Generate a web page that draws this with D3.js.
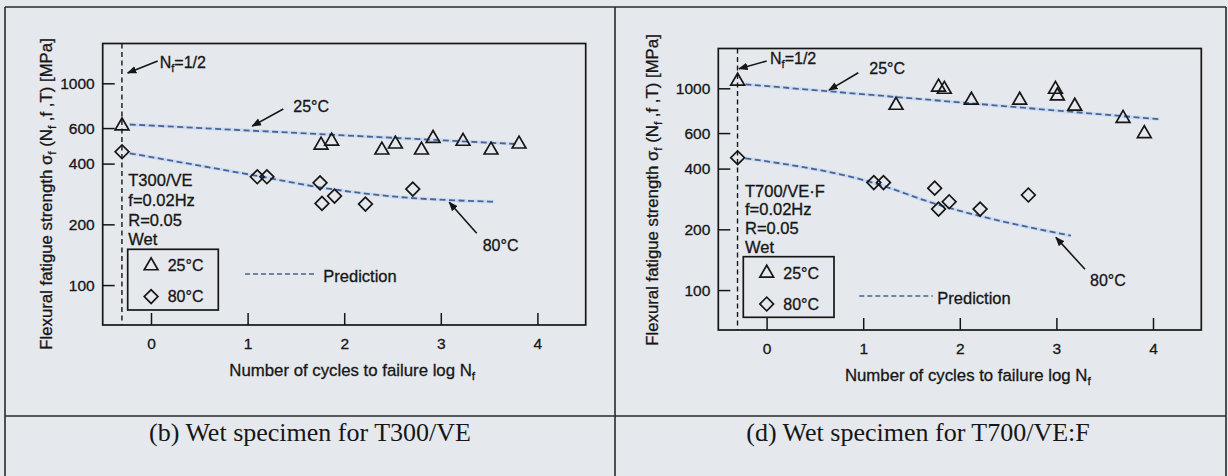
<!DOCTYPE html>
<html>
<head>
<meta charset="utf-8">
<script src="https://cdn.jsdelivr.net/npm/d3@7"></script>
<style>
  body { margin: 0; background: #e5e8ed; }
  svg { display: block; }
  text { font-family: "Liberation Sans", Arial, Helvetica, sans-serif; fill: #161616;
         stroke: #161616; stroke-width: 0.3px; }
  .caption { font-family: "Liberation Serif", "Times New Roman", serif; font-size: 26px; stroke: none; }
</style>
</head>
<body>
<div id="chart"></div>
<script>
// axis ticks (log N on x, stress on a log y axis)
var xTicks = [0, 1, 2, 3, 4],
    yTicks = [100, 200, 400, 600, 1000];
var logNHalf = Math.log10(0.5); // Nf = 1/2

// (b) T300/VE, wet
var b25LogN = [-0.30, 1.76, 1.87, 2.39, 2.53, 2.80, 2.92, 3.23, 3.52, 3.81],
    b25Stress = [615, 494, 517, 467, 500, 467, 533, 516, 467, 500];
var b80LogN = [-0.30, 1.10, 1.20, 1.75, 1.77, 1.90, 2.22, 2.71],
    b80Stress = [458, 344, 344, 321, 254, 276, 252, 299];
var b25PredLogN = [-0.22, 3.78],
    b25PredStress = [625, 500];
var b80PredLogN = [-0.22, 1.15, 1.75, 2.50, 3.55],
    b80PredStress = [450, 344, 305, 275, 259];

// (d) T700/VE:F, wet
var d25LogN = [-0.30, 1.34, 1.78, 1.84, 2.12, 2.62, 2.99, 3.01, 3.19, 3.69, 3.91],
    d25Stress = [1085, 824, 1014, 989, 873, 873, 989, 916, 815, 710, 596];
var d80LogN = [-0.30, 1.11, 1.21, 1.74, 1.78, 1.89, 2.21, 2.71],
    d80Stress = [453, 341, 341, 320, 252, 274, 252, 296];
var d25PredLogN = [-0.22, 4.06],
    d25PredStress = [1047, 703];
var d80PredLogN = [-0.22, 1.15, 1.70, 3.15],
    d80PredStress = [450, 335, 272, 186];

var w = 1228, h = 476;
var pw = 483, ph = 281.5;
var predColor = "#46639a", ink = "#161616";

function zip(xs, ys) { return xs.map(function(x, i) { return [x, ys[i]]; }); }

var panels = [
  {ox: 102.7, oy: 43.5, caption: "(b) Wet specimen for T300/VE", capX: 310,
   material: "T300/VE",
   d25: zip(b25LogN, b25Stress), d80: zip(b80LogN, b80Stress),
   p25: zip(b25PredLogN, b25PredStress), p80: zip(b80PredLogN, b80PredStress),
   lay: {nf: [57, 24], nfArrow: [55, 17.5, 25, 29.5],
         t25: [190.6, 68.5], a25: [180.6, 65.5, 149.6, 82.5],
         t80: [380, 207.5], a80: [374, 189.8, 346.5, 158.8],
         info: [25.6, 142.5, 19.8],
         legend: [25, 205.8, 90.6, 60.7], predY: 230.5, predX: [142.3, 212.3, 220.6],
         yLabX: -51, yLabY: 150.5}},
  {ox: 718.3, oy: 48.5, caption: "(d) Wet specimen for T700/VE:F", capX: 918,
   material: "T700/VE\u00b7F",
   d25: zip(d25LogN, d25Stress), d80: zip(d80LogN, d80Stress),
   p25: zip(d25PredLogN, d25PredStress), p80: zip(d80PredLogN, d80PredStress),
   lay: {nf: [51.7, 15.8], nfArrow: [48.4, 12.5, 20.7, 20.3],
         t25: [151, 25.8], a25: [140, 24.2, 110.7, 41.6],
         t80: [371.7, 237.5], a80: [366.7, 220.8, 337.6, 188.9],
         info: [26.7, 148.2, 18.7],
         legend: [25, 208.2, 90.7, 60.6], predY: 247.5, predX: [141, 214.4, 219],
         yLabX: -60.3, yLabY: 141.5}}
];

var svg = d3.select("#chart").append("svg")
    .attr("width", w)
    .attr("height", h);

svg.append("rect").attr("width", w).attr("height", h).attr("fill", "#e5e8ed");

// arrow head
svg.append("defs").append("marker")
    .attr("id", "head")
    .attr("viewBox", "0 0 10 10")
    .attr("refX", 9).attr("refY", 5)
    .attr("markerWidth", 6).attr("markerHeight", 6)
    .attr("orient", "auto")
  .append("path")
    .attr("d", "M0,1L10,5L0,9Z")
    .attr("fill", ink);

// table frame around both figures
svg.append("path")
    .attr("d", "M5,7H1226M5,7V476M615,7V476M1226,7V476M5,416H1226")
    .attr("fill", "none")
    .attr("stroke", "#2a2a2a")
    .attr("stroke-width", 1.6);

var x = d3.scaleLinear().domain([-0.5, 4.5]).range([0, pw]),
    y = d3.scaleLog().domain([63.4, 1575]).range([ph, 0]);

var tri = d3.symbol(d3.symbolTriangle, 82),
    dia = d3.symbol(d3.symbolSquare, 94);

function addSub(t, s) {
  t.append("tspan").attr("dy", 4).attr("font-size", "0.7em").text(s);
}

panels.forEach(function(p) {
  var L = p.lay;
  var g = svg.append("g").attr("transform", "translate(" + p.ox + "," + p.oy + ")");

  // axes, ticks inside the box
  var xa = g.append("g")
      .attr("transform", "translate(0," + ph + ")")
      .call(d3.axisBottom(x).tickValues(xTicks).tickFormat(d3.format("d"))
        .tickSizeInner(-12).tickSizeOuter(0).tickPadding(13));
  var ya = g.append("g")
      .call(d3.axisLeft(y).tickValues(yTicks).tickFormat(d3.format("d"))
        .tickSizeInner(-12).tickSizeOuter(0).tickPadding(8));
  [xa, ya].forEach(function(a) {
    a.select(".domain").remove();
    a.selectAll("line").attr("stroke", ink).attr("stroke-width", 1.5);
    a.selectAll("text").attr("font-size", 15.5).attr("fill", ink)
      .style("font-family", "'Liberation Sans', Arial, sans-serif");
  });

  g.append("rect")
      .attr("width", pw).attr("height", ph)
      .attr("fill", "none").attr("stroke", ink).attr("stroke-width", 1.7);

  // Nf = 1/2 line
  g.append("line")
      .attr("x1", x(logNHalf)).attr("x2", x(logNHalf))
      .attr("y1", 0).attr("y2", ph)
      .attr("stroke", ink).attr("stroke-width", 1.4)
      .attr("stroke-dasharray", "5,3.5");

  // prediction curves
  var line = d3.line()
      .x(function(d) { return x(d[0]); })
      .y(function(d) { return y(d[1]); })
      .curve(d3.curveMonotoneX);
  [p.p25, p.p80].forEach(function(pd) {
    g.append("path").datum(pd)
        .attr("fill", "none").attr("stroke", "#b9cfee")
        .attr("stroke-width", 3.5).attr("opacity", 0.55)
        .attr("d", line);
    g.append("path").datum(pd)
        .attr("fill", "none").attr("stroke", predColor)
        .attr("stroke-width", 1.8).attr("stroke-dasharray", "6,3.5")
        .attr("d", line);
  });

  // experimental points
  g.selectAll(".t25").data(p.d25).enter().append("path")
      .attr("class", "t25")
      .attr("transform", function(d) { return "translate(" + x(d[0]) + "," + y(d[1]) + ")"; })
      .attr("d", tri)
      .attr("fill", "none").attr("stroke", ink).attr("stroke-width", 1.7);
  g.selectAll(".d80").data(p.d80).enter().append("path")
      .attr("class", "d80")
      .attr("transform", function(d) { return "translate(" + x(d[0]) + "," + y(d[1]) + ") rotate(45)"; })
      .attr("d", dia)
      .attr("fill", "none").attr("stroke", ink).attr("stroke-width", 1.7);

  // annotations
  var nf = g.append("text").attr("x", L.nf[0]).attr("y", L.nf[1]).attr("font-size", 16);
  nf.append("tspan").text("N");
  addSub(nf, "f");
  nf.append("tspan").attr("dy", -4).text("=1/2");

  g.append("text").attr("x", L.t25[0]).attr("y", L.t25[1]).attr("font-size", 16).text("25\u00b0C");
  g.append("text").attr("x", L.t80[0]).attr("y", L.t80[1]).attr("font-size", 16).text("80\u00b0C");

  [L.nfArrow, L.a25, L.a80].forEach(function(a) {
    g.append("line")
        .attr("x1", a[0]).attr("y1", a[1]).attr("x2", a[2]).attr("y2", a[3])
        .attr("stroke", ink).attr("stroke-width", 1.6)
        .attr("marker-end", "url(#head)");
  });

  [p.material, "f=0.02Hz", "R=0.05", "Wet"].forEach(function(s, i) {
    g.append("text")
        .attr("x", L.info[0]).attr("y", L.info[1] + i * L.info[2])
        .attr("font-size", 16.5).text(s);
  });

  // legend box
  var lg = L.legend;
  g.append("rect")
      .attr("x", lg[0]).attr("y", lg[1]).attr("width", lg[2]).attr("height", lg[3])
      .attr("fill", "#e5e8ed").attr("stroke", ink).attr("stroke-width", 1.7);
  g.append("path")
      .attr("transform", "translate(" + (lg[0] + 23.4) + "," + (lg[1] + 16.5) + ")")
      .attr("d", tri).attr("fill", "none").attr("stroke", ink).attr("stroke-width", 1.7);
  g.append("path")
      .attr("transform", "translate(" + (lg[0] + 23.4) + "," + (lg[1] + 47.3) + ") rotate(45)")
      .attr("d", dia).attr("fill", "none").attr("stroke", ink).attr("stroke-width", 1.7);
  g.append("text").attr("x", lg[0] + 40).attr("y", lg[1] + 22).attr("font-size", 16).text("25\u00b0C");
  g.append("text").attr("x", lg[0] + 40).attr("y", lg[1] + 53).attr("font-size", 16).text("80\u00b0C");

  g.append("line")
      .attr("x1", L.predX[0]).attr("x2", L.predX[1])
      .attr("y1", L.predY).attr("y2", L.predY)
      .attr("stroke", predColor).attr("stroke-width", 1.6).attr("stroke-dasharray", "5,3");
  g.append("text").attr("x", L.predX[2]).attr("y", L.predY + 7.5)
      .attr("font-size", 16.5).text("Prediction");

  // axis labels
  var xl = g.append("text")
      .attr("x", pw / 2 + 8).attr("y", ph + 51)
      .attr("text-anchor", "middle").attr("font-size", 16.8)
      .text("Number of cycles to failure log N");
  addSub(xl, "f");

  var yl = g.append("text")
      .attr("transform", "translate(" + L.yLabX + "," + L.yLabY + ") rotate(-90)")
      .attr("text-anchor", "middle").attr("font-size", 16.8);
  yl.append("tspan").text("Flexural fatigue strength \u03c3");
  addSub(yl, "f");
  yl.append("tspan").attr("dy", -4).text(" (N");
  addSub(yl, "f");
  yl.append("tspan").attr("dy", -4).text(" ,f ,T) [MPa]");

  // caption under the figure
  svg.append("text")
      .attr("class", "caption")
      .attr("x", p.capX).attr("y", 441)
      .attr("text-anchor", "middle")
      .text(p.caption);
});
</script>
</body>
</html>
